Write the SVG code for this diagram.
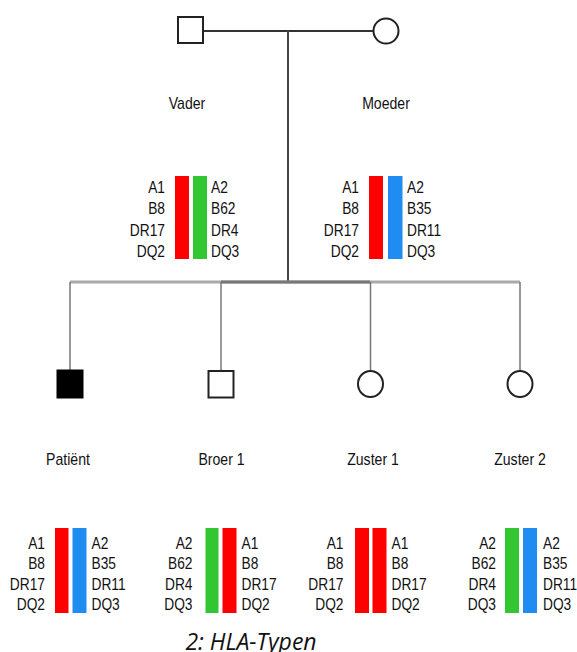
<svg xmlns="http://www.w3.org/2000/svg" width="577" height="652" viewBox="0 0 577 652">
<style>
.t{font-family:"Liberation Sans",Arial,sans-serif;font-size:16px;fill:#111}
.e{text-anchor:end}
.m{text-anchor:middle}
.red{fill:#ff0000}
.grn{fill:#33c633}
.blu{fill:#1e8cf0}
.sym{fill:#fff;stroke:#222;stroke-width:2}
.cap{font-family:"Open Sans","Noto Sans",sans-serif;font-style:italic;font-size:23px;fill:#111;text-anchor:middle}
</style>
<rect width="577" height="652" fill="#fff"/>
<g id="connectors" fill="none">
<line x1="203" y1="31" x2="374" y2="31" stroke="#333" stroke-width="2"/>
<line x1="288" y1="31" x2="288" y2="282" stroke="#444" stroke-width="2"/>
<line x1="70" y1="282" x2="520" y2="282" stroke="#aaa" stroke-width="3"/>
<line x1="221" y1="282" x2="370" y2="282" stroke="#777" stroke-width="3"/>
<line x1="70" y1="282" x2="70" y2="370" stroke="#777" stroke-width="1.5"/>
<line x1="221" y1="282" x2="221" y2="371" stroke="#777" stroke-width="1.5"/>
<line x1="370.5" y1="282" x2="370.5" y2="371" stroke="#777" stroke-width="1.5"/>
<line x1="520" y1="282" x2="520" y2="371" stroke="#777" stroke-width="1.5"/>
</g>
<g id="vader">
<rect class="sym" x="178" y="17" width="25" height="26"/>
<g transform="translate(187 0) scale(0.88 1)"><text class="t m" x="0" y="109">Vader</text></g>
<rect class="red" x="175" y="176" width="14" height="83"/>
<rect class="grn" x="193" y="176" width="14" height="83"/>
<g transform="translate(165 0) scale(0.86 1)"><text class="t e" x="0" y="193">A1</text><text class="t e" x="0" y="214">B8</text><text class="t e" x="0" y="236">DR17</text><text class="t e" x="0" y="257">DQ2</text></g>
<g transform="translate(211 0) scale(0.86 1)"><text class="t" x="0" y="193">A2</text><text class="t" x="0" y="214">B62</text><text class="t" x="0" y="236">DR4</text><text class="t" x="0" y="257">DQ3</text></g>
</g>
<g id="moeder">
<ellipse class="sym" cx="386" cy="31" rx="12.5" ry="12.5"/>
<g transform="translate(386 0) scale(0.88 1)"><text class="t m" x="0" y="109">Moeder</text></g>
<rect class="red" x="369" y="176" width="14" height="83"/>
<rect class="blu" x="388" y="176" width="14.5" height="83"/>
<g transform="translate(359 0) scale(0.86 1)"><text class="t e" x="0" y="193">A1</text><text class="t e" x="0" y="214">B8</text><text class="t e" x="0" y="236">DR17</text><text class="t e" x="0" y="257">DQ2</text></g>
<g transform="translate(407 0) scale(0.86 1)"><text class="t" x="0" y="193">A2</text><text class="t" x="0" y="214">B35</text><text class="t" x="0" y="236">DR11</text><text class="t" x="0" y="257">DQ3</text></g>
</g>
<g id="patient">
<rect x="57" y="370" width="26" height="28" fill="#000" stroke="#000" stroke-width="1"/>
<g transform="translate(68 0) scale(0.88 1)"><text class="t m" x="0" y="465">Patiënt</text></g>
<rect class="red" x="55" y="528" width="13.5" height="85"/>
<rect class="blu" x="72.5" y="528" width="14" height="85"/>
<g transform="translate(45 0) scale(0.86 1)"><text class="t e" x="0" y="549">A1</text><text class="t e" x="0" y="569.5">B8</text><text class="t e" x="0" y="590">DR17</text><text class="t e" x="0" y="610.5">DQ2</text></g>
<g transform="translate(91.5 0) scale(0.86 1)"><text class="t" x="0" y="549">A2</text><text class="t" x="0" y="569.5">B35</text><text class="t" x="0" y="590">DR11</text><text class="t" x="0" y="610.5">DQ3</text></g>
</g>
<g id="broer1">
<rect class="sym" x="208.5" y="371" width="25" height="26.5"/>
<g transform="translate(221.5 0) scale(0.88 1)"><text class="t m" x="0" y="465">Broer 1</text></g>
<rect class="grn" x="205.5" y="528" width="13" height="85"/>
<rect class="red" x="222.5" y="528" width="14" height="85"/>
<g transform="translate(192.5 0) scale(0.86 1)"><text class="t e" x="0" y="549">A2</text><text class="t e" x="0" y="569.5">B62</text><text class="t e" x="0" y="590">DR4</text><text class="t e" x="0" y="610.5">DQ3</text></g>
<g transform="translate(241.5 0) scale(0.86 1)"><text class="t" x="0" y="549">A1</text><text class="t" x="0" y="569.5">B8</text><text class="t" x="0" y="590">DR17</text><text class="t" x="0" y="610.5">DQ2</text></g>
</g>
<g id="zuster1">
<ellipse class="sym" cx="370.5" cy="384" rx="12.5" ry="13"/>
<g transform="translate(373 0) scale(0.88 1)"><text class="t m" x="0" y="465">Zuster 1</text></g>
<rect class="red" x="355" y="528" width="14" height="85"/>
<rect class="red" x="372.5" y="528" width="14" height="85"/>
<g transform="translate(343.5 0) scale(0.86 1)"><text class="t e" x="0" y="549">A1</text><text class="t e" x="0" y="569.5">B8</text><text class="t e" x="0" y="590">DR17</text><text class="t e" x="0" y="610.5">DQ2</text></g>
<g transform="translate(391.5 0) scale(0.86 1)"><text class="t" x="0" y="549">A1</text><text class="t" x="0" y="569.5">B8</text><text class="t" x="0" y="590">DR17</text><text class="t" x="0" y="610.5">DQ2</text></g>
</g>
<g id="zuster2">
<ellipse class="sym" cx="520" cy="384" rx="12.5" ry="13"/>
<g transform="translate(520 0) scale(0.88 1)"><text class="t m" x="0" y="465">Zuster 2</text></g>
<rect class="grn" x="505" y="528" width="14" height="85"/>
<rect class="blu" x="523" y="528" width="14" height="85"/>
<g transform="translate(496 0) scale(0.86 1)"><text class="t e" x="0" y="549">A2</text><text class="t e" x="0" y="569.5">B62</text><text class="t e" x="0" y="590">DR4</text><text class="t e" x="0" y="610.5">DQ3</text></g>
<g transform="translate(543 0) scale(0.86 1)"><text class="t" x="0" y="549">A2</text><text class="t" x="0" y="569.5">B35</text><text class="t" x="0" y="590">DR11</text><text class="t" x="0" y="610.5">DQ3</text></g>
</g>
<g id="caption">
<text class="cap" x="251" y="650">2: HLA-Typen</text>
</g>
</svg>
